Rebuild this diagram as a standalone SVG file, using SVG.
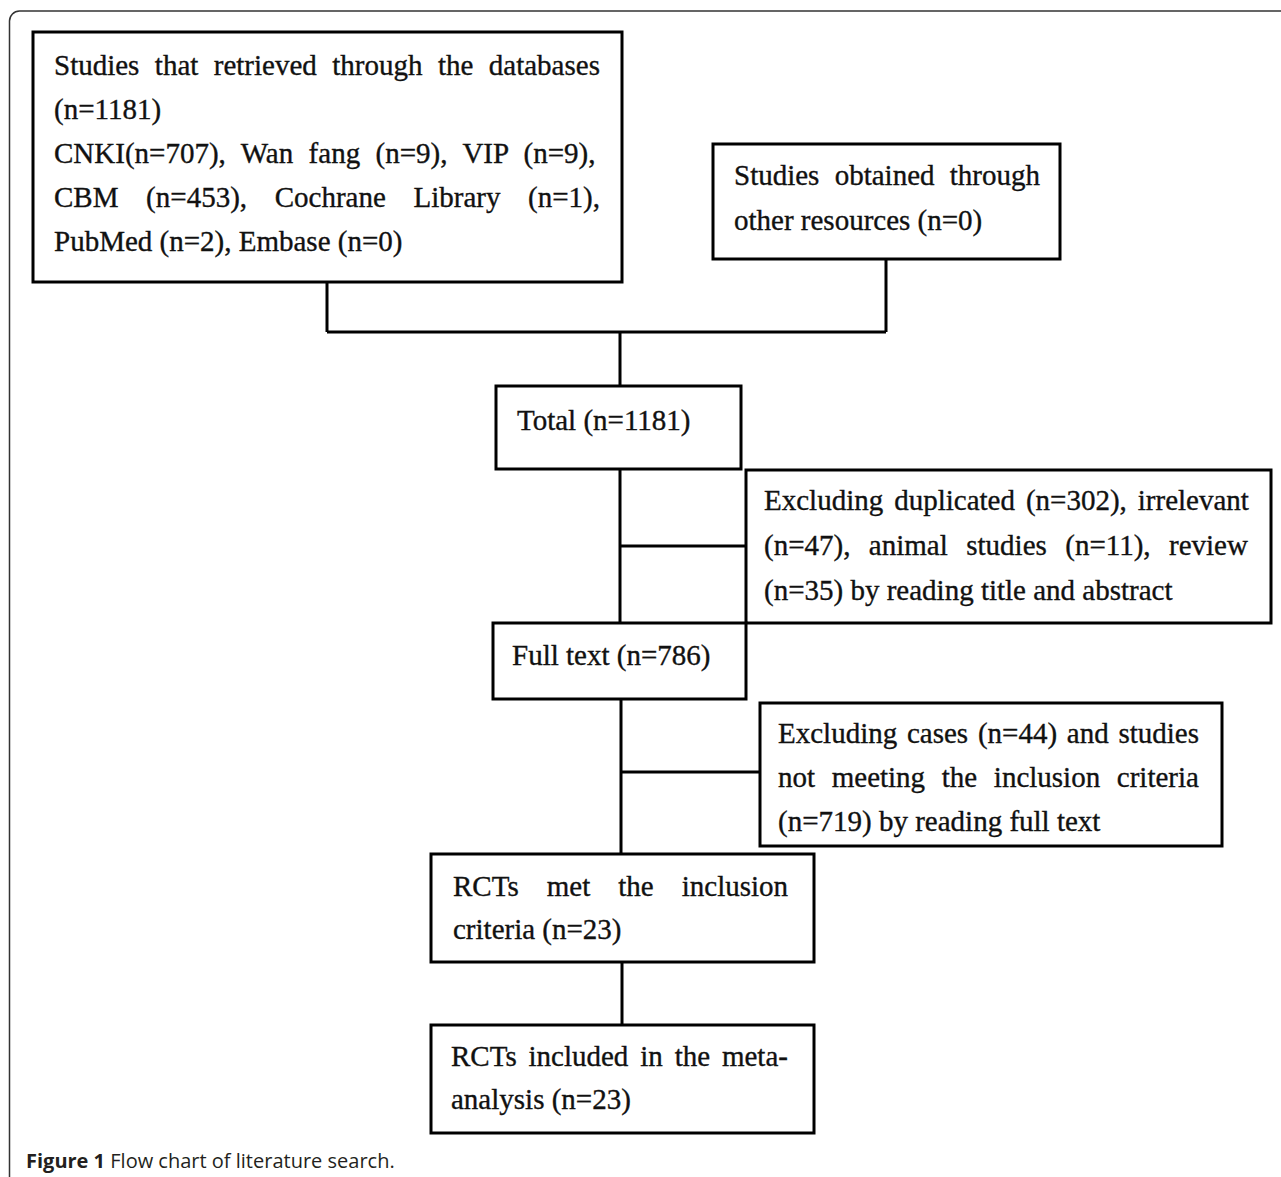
<svg xmlns="http://www.w3.org/2000/svg" width="1281" height="1177" viewBox="0 0 1281 1177">
<style>
.box{fill:#fff;stroke:#000;stroke-width:3}
.t{font-family:"Liberation Serif","Times New Roman",serif;font-size:29px;fill:#111;stroke:#111;stroke-width:0.35}
.c{fill:none;stroke:#000;stroke-width:3}
.frame{fill:none;stroke:#333;stroke-width:1.5}
.cap{font-family:"Open Sans","Liberation Sans",sans-serif;font-size:20px;fill:#231f20}
</style>
<rect x="0" y="0" width="1281" height="1177" fill="#fff"/>
<path class="frame" d="M9.5,1177 V21 A10,10 0 0 1 19.5,11 H1281"/>
<g id="connectors">
<path class="c" d="M327,282 V332 M886,259 V332 M327,332 H886 M620,332 V386"/>
<path class="c" d="M620,469 V623 M620,546 H746"/>
<path class="c" d="M621,699 V854 M621,772 H760"/>
<path class="c" d="M622,962 V1025"/>
</g>
<g id="n1">
<rect class="box" x="33" y="32" width="589" height="250"/>
<text class="t" x="54" y="75" style="word-spacing:8.2px">Studies that retrieved through the databases</text>
<text class="t" x="54" y="119">(n=1181)</text>
<text class="t" x="54" y="163" style="word-spacing:8.2px">CNKI(n=707), Wan fang (n=9), VIP (n=9),</text>
<text class="t" x="54" y="207" style="word-spacing:20.4px">CBM (n=453), Cochrane Library (n=1),</text>
<text class="t" x="54" y="251">PubMed (n=2), Embase (n=0)</text>
</g>
<g id="n2">
<rect class="box" x="713" y="144" width="347" height="115"/>
<text class="t" x="734" y="185" style="word-spacing:8px">Studies obtained through</text>
<text class="t" x="734" y="230">other resources (n=0)</text>
</g>
<g id="n3">
<rect class="box" x="496" y="386" width="245" height="83"/>
<text class="t" x="517" y="430">Total (n=1181)</text>
</g>
<g id="n4">
<rect class="box" x="746" y="470" width="525" height="153"/>
<text class="t" x="764" y="510" style="word-spacing:3.7px">Excluding duplicated (n=302), irrelevant</text>
<text class="t" x="764" y="555" style="word-spacing:11.2px">(n=47), animal studies (n=11), review</text>
<text class="t" x="764" y="600">(n=35) by reading title and abstract</text>
</g>
<g id="n5">
<rect class="box" x="493" y="623" width="253" height="76"/>
<text class="t" x="512" y="665">Full text (n=786)</text>
</g>
<g id="n6">
<rect class="box" x="760" y="703" width="462" height="143"/>
<text class="t" x="778" y="743" style="word-spacing:2.5px">Excluding cases (n=44) and studies</text>
<text class="t" x="778" y="787" style="word-spacing:9.4px">not meeting the inclusion criteria</text>
<text class="t" x="778" y="831">(n=719) by reading full text</text>
</g>
<g id="n7">
<rect class="box" x="431" y="854" width="383" height="108"/>
<text class="t" x="453" y="896" style="word-spacing:20.8px">RCTs met the inclusion</text>
<text class="t" x="453" y="939">criteria (n=23)</text>
</g>
<g id="n8">
<rect class="box" x="431" y="1025" width="383" height="108"/>
<text class="t" x="451" y="1066" style="word-spacing:4.6px">RCTs included in the meta-</text>
<text class="t" x="451" y="1109">analysis (n=23)</text>
</g>
<text class="cap" x="26" y="1168"><tspan font-weight="bold">Figure 1</tspan> Flow chart of literature search.</text>
</svg>
